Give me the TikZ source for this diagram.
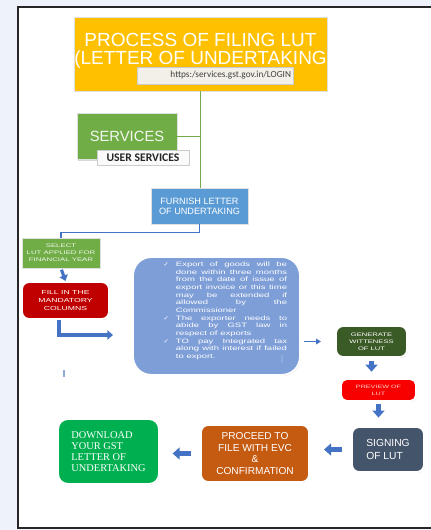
\documentclass[tikz,border=0pt]{standalone}
\usepackage{fontspec}
\usetikzlibrary{arrows.meta, positioning, shadows}
\usepackage{xcolor}
\setmainfont{Liberation Sans}
\newfontfamily\widefont[FakeStretch=1.5]{Liberation Sans}
\newfontfamily\calfont{Carlito}
\newfontfamily\timesfont{Liberation Serif}
\newfontfamily\tickfont{DejaVu Sans}
\definecolor{pagebg}{HTML}{EEF2FA}
\definecolor{titleyellow}{HTML}{FFC000}
\definecolor{urlcream}{HTML}{F2F0E8}
\definecolor{svcgreen}{HTML}{70AD47}
\definecolor{furnishblue}{HTML}{5B9BD5}
\definecolor{linkblue}{HTML}{4472C4}
\definecolor{fillred}{HTML}{C00000}
\definecolor{bigblue}{HTML}{7E9ED8}
\definecolor{gengreen}{HTML}{3A5A26}
\definecolor{previewred}{HTML}{F80000}
\definecolor{signslate}{HTML}{44546A}
\definecolor{proceedorange}{HTML}{C55A11}
\definecolor{dlgreen}{HTML}{00B050}
\definecolor{cursorblue}{HTML}{8FAADC}
\def\px{0.025cm}

\begin{document}
\begin{tikzpicture}[x=\px, y=-\px]
    \tikzstyle{flat box}=[draw=black!12, line width=0.6pt, inner sep=0pt, align=center, text=white,
        drop shadow={opacity=0.3, shadow xshift=0.8pt, shadow yshift=-0.8pt}]
    \tikzstyle{round box}=[rounded corners=5pt, draw=white, line width=1.4pt, inner sep=0pt, align=center, text=white,
        drop shadow={opacity=0.3, shadow xshift=0.5pt, shadow yshift=-0.7pt}]
    \tikzstyle{label box}=[draw=black!20, line width=0.4pt, inner sep=0pt,
        drop shadow={opacity=0.25, shadow xshift=0.6pt, shadow yshift=-0.6pt}]
    \tikzstyle{green line}=[draw=svcgreen, line width=1.4pt]
    \tikzstyle{blue line}=[draw=linkblue, line width=0.8pt]
    \tikzstyle{block arrow}=[draw=linkblue, line width=3pt, -{Triangle[width=8.5pt,length=5pt]}]
    \tikzstyle{thin arrow}=[draw=linkblue, line width=1.1pt, -{Triangle[width=4pt,length=3.5pt]}]

    % page and its frame
    \useasboundingbox (0,0) rectangle (431,530);
    \fill[pagebg] (0,0) rectangle (431,530);
    \fill[white] (18,7) rectangle (431,528);
    \draw[black!85, line width=1pt] (431,7) -- (18,7) -- (18,528) -- (431,528);

    % Draw the title and the login link
    \node[flat box, fill=titleyellow, minimum width=253*\px, minimum height=74*\px] (title) at (200.5,54) {};
    \node[text=white, align=center, font=\fontsize{13.5}{12.8}\selectfont] (titletext) at (200.5,50.5)
        {PROCESS OF FILING LUT\\(LETTER OF UNDERTAKING};
    \node[label box, fill=urlcream, minimum width=156*\px, minimum height=17*\px, text width=152*\px,
        align=right, text=black!75, font=\calfont\fontsize{6.6}{7}\selectfont] (url) at (215,75.5)
        {https:/services.gst.gov.in/LOGIN};

    % Draw the services boxes
    \node[flat box, fill=svcgreen, minimum width=100*\px, minimum height=46*\px, text=white!92!svcgreen,
        font=\fontsize{10.5}{12}\selectfont] (services) at (127,136.5) {SERVICES};
    \node[label box, fill=black!2, minimum width=92*\px, minimum height=15*\px, text=black!85,
        font=\calfont\bfseries\fontsize{8.3}{9}\selectfont] (usersvc) at (143,157.5) {USER SERVICES};
    \node[flat box, fill=furnishblue, minimum width=97*\px, minimum height=36*\px,
        font=\fontsize{6.5}{7}\selectfont] (furnish) at (199.5,206) {FURNISH LETTER\\OF UNDERTAKING};

    % Draw the left column
    \node[flat box, fill=svcgreen, minimum width=78*\px, minimum height=30*\px, text=white!90!svcgreen,
        font=\widefont\fontsize{3.7}{5}\selectfont] (select) at (61,253) {SELECT\\LUT APPLIED FOR\\FINANCIAL YEAR};
    \node[round box, fill=fillred, minimum width=87*\px, minimum height=37*\px,
        font=\widefont\fontsize{4.1}{5.7}\selectfont] (fill) at (65.5,300.5) {FILL IN THE\\MANDATORY\\COLUMNS};
    \coordinate (elbowend) at (113,335);

    % Draw the conditions box
    \node[round box, rounded corners=13pt, fill=bigblue, minimum width=167*\px, minimum height=118*\px] (conditions) at (216.5,316) {};
    \node[text width=79pt, align=justify, text=white, inner sep=0pt,
        font=\widefont\fontsize{4.5}{5.45}\selectfont] (condtext) at (231.5,311)
        {\tolerance=10000\hyphenpenalty=10000
        \noindent\llap{{\tickfont ✓}\hspace{5pt}}Export of goods will be\linebreak done within three months\linebreak
        from the date of issue of\linebreak export invoice or this time\linebreak may be extended if\linebreak
        allowed by the\linebreak Commissioner\par
        \noindent\llap{{\tickfont ✓}\hspace{5pt}}The exporter needs to\linebreak abide by GST law in\linebreak
        respect of exports\par
        \noindent\llap{{\tickfont ✓}\hspace{5pt}}TO pay Integrated tax\linebreak along with interest if failed\linebreak
        to export.};

    % Draw the right column and the last row
    \node[round box, fill=gengreen, minimum width=71*\px, minimum height=31*\px,
        font=\widefont\fontsize{3.6}{5}\selectfont] (generate) at (371.5,341.5) {GENERATE\\WITTENESS\\OF LUT};
    \node[round box, rounded corners=4pt, fill=previewred, minimum width=75*\px, minimum height=22*\px,
        text=white!82!red, font=\widefont\fontsize{3.4}{5}\selectfont] (preview) at (378.5,390) {PREVIEW OF\\LUT};
    \node[round box, fill=signslate, minimum width=72*\px, minimum height=45*\px, align=left,
        font=\fontsize{7.3}{9.2}\selectfont] (signing) at (388,449.5) {SIGNING\\OF LUT};
    \node[round box, fill=proceedorange, minimum width=108*\px, minimum height=57*\px,
        font=\fontsize{7.2}{8.5}\selectfont] (proceed) at (255,453.5) {PROCEED TO\\FILE WITH EVC\\\&\\CONFIRMATION};
    \node[round box, rounded corners=7pt, fill=dlgreen, minimum width=101*\px, minimum height=65*\px, align=left,
        font=\timesfont\fontsize{7.4}{8}\selectfont] (download) at (108.5,451.5) {DOWNLOAD\\YOUR GST\\LETTER OF\\UNDERTAKING};

    % Connect the boxes
    \draw[green line] (title.south) -- (title.south |- furnish.north);
    \draw[green line] (services.east) -- (services.east -| title.south);
    \draw[blue line] (furnish.south) -- ++(0,8) -| (select.north);
    \draw[block arrow, line width=2.2pt, -{Triangle[width=6pt,length=4pt]}, shorten <=1pt] (select.south) -- (fill.north);
    \draw[block arrow, line width=2.4pt, -{Triangle[width=6.5pt,length=4pt]}] ([xshift=-4.6pt]fill.south) |- (elbowend);
    \draw[thin arrow, shorten <=2pt, shorten >=10pt] (conditions.east |- generate.west) -- (generate.west);
    \draw[block arrow, shorten <=2pt, shorten >=4.5pt] (generate.south) -- (generate.south |- preview.north);
    \draw[block arrow, shorten <=1.5pt, shorten >=6pt] (preview.south) -- (preview.south |- signing.north);
    \draw[block arrow, shorten <=6.4pt, shorten >=10pt] (signing.west) -- (signing.west -| proceed.east);
    \draw[block arrow, shorten <=6.4pt, shorten >=9pt] (proceed.west) -- (proceed.west -| download.east);

    % stray marks
    \draw[cursorblue, line width=0.8pt] (64,370) -- (64,377);
    \draw[cursorblue, line width=0.8pt] (282,355) -- (282,363);
\end{tikzpicture}
\end{document}
